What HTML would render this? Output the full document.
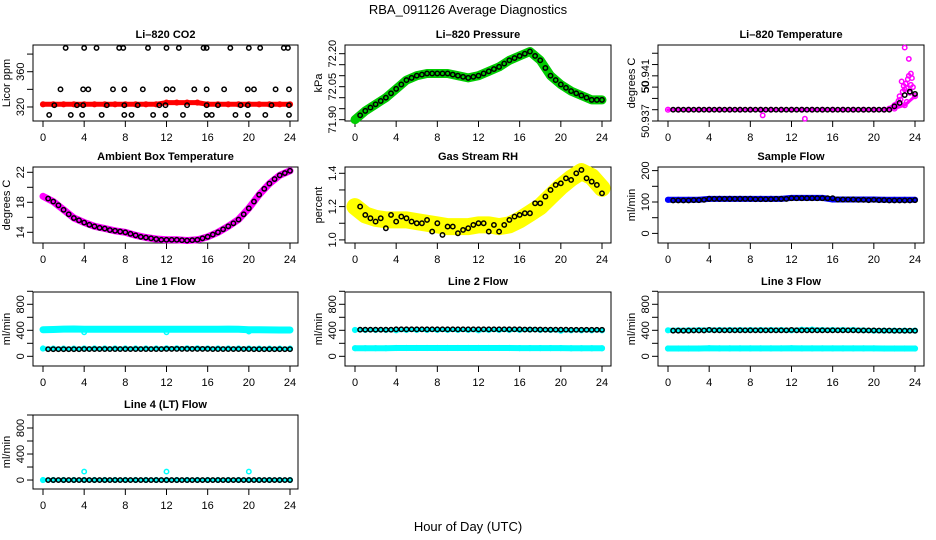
<!DOCTYPE html>
<html><head><meta charset="utf-8"><title>RBA_091126 Average Diagnostics</title>
<style>
html,body{margin:0;padding:0;background:#fff;}
svg{display:block;font-family:"Liberation Sans",Arial,sans-serif;}
</style></head>
<body>
<svg id="chart" width="936" height="540" viewBox="0 0 936 540" xmlns="http://www.w3.org/2000/svg">
<rect width="936" height="540" fill="#fff"/>
<text x="468" y="14" font-size="13" text-anchor="middle">RBA_091126  Average Diagnostics</text>
<text x="468" y="531" font-size="13" text-anchor="middle">Hour of Day (UTC)</text>
</svg>
<script>
const HOURS=[0,1,2,3,4,5,6,7,8,9,10,11,12,13,14,15,16,17,18,19,20,21,22,23,24];
const HALF=[0.5,1,1.5,2,2.5,3,3.5,4,4.5,5,5.5,6,6.5,7,7.5,8,8.5,9,9.5,10,10.5,11,11.5,12,12.5,13,13.5,14,14.5,15,15.5,16,16.5,17,17.5,18,18.5,19,19.5,20,20.5,21,21.5,22,22.5,23,23.5,24];
const XTICKS=[0,4,8,12,16,20,24];

// CO2
const co2Band=[323,323,323,323,323,323,323,323,323,323,323,323,325,325,325,325,323,323,323,323,323,323,323,323,323];
const co2Hours=[2.2,4,5.2,7.4,7.8,10.2,12,13.2,15.6,15.9,18.2,20,21.1,23.4,23.8, 1.7,3.9,4.4,6.8,7.9,9.7,12,12.6,14.7,15.9,17.6,19.9,20.5,22.6,23.9, 0.6,2.7,3.8,5.7,7.9,8.6,10.7,11.9,13.6,15.9,16.4,18.7,19.9,21.6,23.9, 1.1,3.3,3.9,6.2,7.9,9.2,11.3,11.9,14,15.9,17,19.2,19.9,22.2,23.9];
const co2Values=[387,387,387,387,387,387,387,387,387,387,387,387,387,387,387, 340,340,340,340,340,340,340,340,340,340,340,340,340,340,340, 311,311,311,311,311,311,311,311,311,311,311,311,311,311,311, 322,322,322,322,322,322,322,322,322,322,322,322,322,322,322];
// Pressure
const presBand=[71.90,71.94,71.97,72.00,72.04,72.08,72.10,72.11,72.11,72.11,72.10,72.09,72.10,72.12,72.14,72.17,72.19,72.21,72.17,72.10,72.06,72.03,72.01,71.99,71.99];
const presBlack=[71.92,71.94,71.955,71.97,71.985,72.00,72.02,72.04,72.06,72.08,72.09,72.10,72.105,72.11,72.11,72.11,72.11,72.11,72.105,72.10,72.095,72.09,72.095,72.10,72.11,72.12,72.13,72.14,72.155,72.17,72.18,72.19,72.20,72.21,72.19,72.17,72.135,72.10,72.08,72.06,72.045,72.03,72.02,72.01,72.00,71.99,71.99,71.99];
// Li-820 temperature
const ltBand=[50.938,50.938,50.938,50.938,50.938,50.938,50.938,50.938,50.938,50.938,50.938,50.938,50.938,50.938,50.938,50.938,50.938,50.938,50.938,50.938,50.938,50.938,50.9381,50.9384,50.9392];
const ltBlack=[50.938,50.938,50.938,50.938,50.938,50.938,50.938,50.938,50.938,50.938,50.938,50.938,50.938,50.938,50.938,50.938,50.938,50.938,50.938,50.938,50.938,50.938,50.938,50.938,50.938,50.938,50.938,50.938,50.938,50.938,50.938,50.938,50.938,50.938,50.938,50.938,50.938,50.938,50.938,50.938,50.938,50.938,50.938,50.9383,50.9386,50.9393,50.9396,50.9394];
const ltExtraHours=[21.5,21.8,22.0,22.2,22.4,22.5,22.6,22.8,22.9,23.0,23.1,23.2,23.3,23.4,23.5,23.6,23.7,23.8,23.2,23.0,23.4,23.6,22.7,9.2,13.3];
const ltExtraValues=[50.9381,50.9382,50.9384,50.9385,50.9388,50.9392,50.9389,50.9396,50.9401,50.9398,50.9403,50.9399,50.9407,50.9410,50.9395,50.9402,50.9408,50.9400,50.9387,50.9435,50.9425,50.9412,50.9405,50.9375,50.9372];
// Ambient
const ambBand=[18.8,18.1,17.0,15.9,15.3,14.8,14.5,14.2,14.0,13.6,13.3,13.1,13.0,13.0,12.9,13.0,13.4,14.0,14.8,15.7,17.2,19.0,20.5,21.6,22.2];
const ambBlack=[18.5,18.1,17.6,17.0,16.4,15.9,15.6,15.3,15.0,14.8,14.6,14.5,14.3,14.2,14.1,14.0,13.8,13.6,13.4,13.3,13.2,13.1,13.0,13.0,13.0,13.0,12.95,12.9,12.95,13.0,13.2,13.4,13.7,14.0,14.4,14.8,15.2,15.7,16.4,17.2,18.1,19.0,19.8,20.5,21.1,21.6,21.9,22.2];
// RH
const rhBand=[1.20,1.15,1.13,1.12,1.12,1.12,1.11,1.10,1.09,1.08,1.08,1.08,1.09,1.09,1.08,1.09,1.12,1.16,1.20,1.26,1.32,1.37,1.41,1.38,1.31];
const rhBlack=[1.20,1.15,1.13,1.11,1.13,1.07,1.15,1.11,1.14,1.13,1.11,1.10,1.10,1.12,1.05,1.10,1.03,1.08,1.08,1.04,1.06,1.07,1.09,1.10,1.10,1.05,1.09,1.05,1.09,1.12,1.14,1.15,1.16,1.16,1.22,1.22,1.26,1.30,1.33,1.34,1.37,1.36,1.40,1.42,1.37,1.35,1.33,1.28];
// Sample flow
const sfBand=[107,107,107,107,110,110,110,110,110,110,110,110,113,113,113,113,108,108,108,108,108,107,107,107,107];
const sfBlack=[105,105,105,105,106,106,107,110,110,110,110,110,110,110,110,110,109,109,109,109,110,110,110,112,112,112,112,112,112,112,112,112,108,108,108,108,107,107,106,107,106,106,105,105,105,105,105,106];
// Line flows
const l1Upper=[410,412,418,420,415,415,415,415,415,415,415,415,415,415,415,415,415,415,418,415,410,408,406,405,405];
const l1Lower=[120,118,118,118,120,120,120,120,120,120,120,120,122,122,122,122,120,120,120,120,120,118,118,118,118];
const l1Black=[110,110,110,110,110,110,110,112,112,112,112,112,112,112,112,112,112,112,112,112,112,112,112,114,114,114,114,114,114,114,114,114,112,112,112,112,112,112,112,112,110,110,110,110,110,110,110,110];
const l2Cyan=[405,405,405,405,400,405,405,405,405,405,405,405,400,405,405,405,405,410,405,405,395,400,400,400,400];
const l2Lower=[125,125,125,125,128,128,128,128,128,128,128,128,128,128,128,128,126,126,126,126,126,124,124,124,124];
const l2Black=[410,410,410,410,410,410,410,415,415,415,415,415,415,415,415,415,415,415,415,415,415,415,415,415,415,415,415,415,415,415,415,415,412,412,412,412,410,410,410,410,410,408,408,408,408,408,408,408];
const l3Cyan=[400,400,402,404,405,405,405,405,405,405,405,405,400,408,410,405,405,405,405,400,395,395,395,395,395];
const l3Lower=[120,120,120,120,125,122,122,122,122,122,122,122,125,122,122,122,122,122,122,122,122,120,120,120,120];
const l3Black=[395,395,395,395,398,398,398,405,400,400,400,400,400,400,400,400,400,400,400,400,400,400,400,405,400,400,400,400,400,400,400,400,400,400,400,400,398,398,398,398,396,396,396,394,394,394,394,394];
const l4Cyan=[0,0,0,0,0,0,0,0,0,0,0,0,0,0,0,0,0,0,0,0,0,0,0,0,0];
const l4Black=[0,0,0,0,0,0,0,0,0,0,0,0,0,0,0,0,0,0,0,0,0,0,0,0,0,0,0,0,0,0,0,0,0,0,0,0,0,0,0,0,0,0,0,0,0,0,0,0];
const l4OutHours=[4,12,20];
const l4OutValues=[130,130,130];
const l1DipHours=[4,12,20];
const l1DipValues=[370,370,380];

const NS="http://www.w3.org/2000/svg";
const svg=document.getElementById('chart');
function mk(tag,attrs,parent){const e=document.createElementNS(NS,tag);for(const k in attrs)e.setAttribute(k,attrs[k]);(parent||svg).appendChild(e);return e;}

function makePanel(name,title,ylab,left,top,w,h,yBot,yTop,ticks,labels){
  const g=mk('g',{});
  
  
  const sx=v=>left+10+v*(247/24);
  const sy=v=>top+h-(v-yBot)/(yTop-yBot)*h;
  const box=mk('rect',{x:left,y:top,width:w,height:h,fill:'none',stroke:'#000','stroke-width':1},g);
  
  
  const t=mk('text',{x:left+w/2,y:top-7,'font-size':11,'font-weight':'bold','text-anchor':'middle'},g);
  t.textContent=title;
  
  
  const yl=mk('text',{x:0,y:0,'font-size':11,'text-anchor':'middle',transform:`translate(${left-23},${top+h/2}) rotate(-90)`},g);
  yl.textContent=ylab;
  
  
  XTICKS.forEach(v=>{
    mk('line',{x1:sx(v),x2:sx(v),y1:top+h,y2:top+h+6,stroke:'#000'},g);
    const tx=mk('text',{x:sx(v),y:top+h+20,'font-size':11,'text-anchor':'middle'},g);
    tx.textContent=String(v);
    
    
  });
  ticks.forEach((v,i)=>{
    mk('line',{x1:left-6,x2:left,y1:sy(v),y2:sy(v),stroke:'#000'},g);
    if(labels[i]){
      const ty=mk('text',{x:0,y:0,'font-size':11,'text-anchor':'middle',transform:`translate(${left-9},${sy(v)}) rotate(-90)`},g);
      ty.textContent=labels[i];
      
      
    }
  });
  return {g,sx,sy};
}
function band(p,xs,vs,color,width,name){
  const pts=xs.map((x,i)=>p.sx(x).toFixed(1)+','+p.sy(vs[i]).toFixed(1)).join(' ');
  const pl=mk('polyline',{points:pts,fill:'none',stroke:color,'stroke-width':width,'stroke-linejoin':'round','stroke-linecap':'round'},p.g);
  
  
  xs.forEach((x,i)=>mk('circle',{cx:p.sx(x),cy:p.sy(vs[i]),r:2.4,fill:'none',stroke:color,'stroke-width':1.4},p.g));
}
function pts(p,xs,vs,color,name){
  const g=mk('g',{},p.g);
  
  
  xs.forEach((x,i)=>mk('circle',{cx:p.sx(x),cy:p.sy(vs[i]),r:2.2,fill:'none',stroke:color,'stroke-width':1.5},g));
}
const C1=33,C2=345,C3=658,W=266,H=76;
const R=[45,167,292,415];

let p=makePanel('co2','Li\u2013820 CO2','Licor ppm',C1,R[0],265,H,304.1,390.3,[320,340,360,380],['320','','360','']);
band(p,HOURS,co2Band,'#f00',5,'co2-red-series');
pts(p,co2Hours,co2Values,'#000','co2-black-series');

p=makePanel('pressure','Li\u2013820 Pressure','kPa',C2,R[0],W,H,71.894,72.2395,[71.90,71.95,72.00,72.05,72.10,72.15,72.20],['71.90','','','72.05','','','72.20']);
band(p,HOURS,presBand,'#0c0',9,'pressure-green-series');
pts(p,HALF,presBlack,'#000','pressure-black-series');

p=makePanel('li820-temp','Li\u2013820 Temperature','degrees C',C3,R[0],W,H,50.937,50.94373,[50.937,50.938,50.939,50.940,50.941,50.942,50.943],['50.937','','','50','50.941','','']);
band(p,HOURS,ltBand,'#f0f',3,'li820-temp-magenta-series');
pts(p,ltExtraHours,ltExtraValues,'#f0f','li820-temp-magenta-points');
pts(p,HALF,ltBlack,'#000','li820-temp-black-series');

p=makePanel('ambient','Ambient Box Temperature','degrees C',C1,R[1],265,H,12.573,22.707,[14,16,18,20,22],['14','','18','','22']);
band(p,HOURS,ambBand,'#f0f',7,'ambient-magenta-series');
pts(p,HALF,ambBlack,'#000','ambient-black-series');

p=makePanel('rh','Gas Stream RH','percent',C2,R[1],W,H,0.9814,1.4378,[1.0,1.1,1.2,1.3,1.4],['1.0','','1.2','','1.4']);
band(p,HOURS,rhBand,'#ff0',17,'rh-yellow-series');
pts(p,HALF,rhBlack,'#000','rh-black-series');

p=makePanel('sample-flow','Sample Flow','ml/min',C3,R[1],W,H,-30.6,211.5,[0,50,100,150,200],['0','','100','','200']);
band(p,HOURS,sfBand,'#00f',6,'sample-flow-blue-series');
pts(p,HALF,sfBlack,'#000','sample-flow-black-series');

const fT=[0,200,400,600,800,1000],fL=['0','','400','','800',''];
p=makePanel('line1','Line 1 Flow','ml/min',C1,R[2],265,74,-149,989,fT,fL);
band(p,HOURS,l1Upper,'#0ff',7,'line1-cyan-upper');
pts(p,l1DipHours,l1DipValues,'#0ff','line1-cyan-dips');
band(p,HOURS,l1Lower,'#0ff',4,'line1-cyan-lower');
pts(p,HALF,l1Black,'#000','line1-black-series');

p=makePanel('line2','Line 2 Flow','ml/min',C2,R[2],W,74,-149,989,fT,fL);
band(p,HOURS,l2Cyan,'#0ff',4,'line2-cyan-upper');
band(p,HOURS,l2Lower,'#0ff',6,'line2-cyan-lower');
pts(p,HALF,l2Black,'#000','line2-black-series');

p=makePanel('line3','Line 3 Flow','ml/min',C3,R[2],W,74,-149,989,fT,fL);
band(p,HOURS,l3Cyan,'#0ff',5,'line3-cyan-upper');
band(p,HOURS,l3Lower,'#0ff',6,'line3-cyan-lower');
pts(p,HALF,l3Black,'#000','line3-black-series');

p=makePanel('line4','Line 4 (LT) Flow','ml/min',C1,R[3],265,74,-138,1000,fT,fL);
band(p,HOURS,l4Cyan,'#0ff',4,'line4-cyan-series');
pts(p,l4OutHours,l4OutValues,'#0ff','line4-cyan-outliers');
pts(p,HALF,l4Black,'#000','line4-black-series');
</script>
</body></html>
